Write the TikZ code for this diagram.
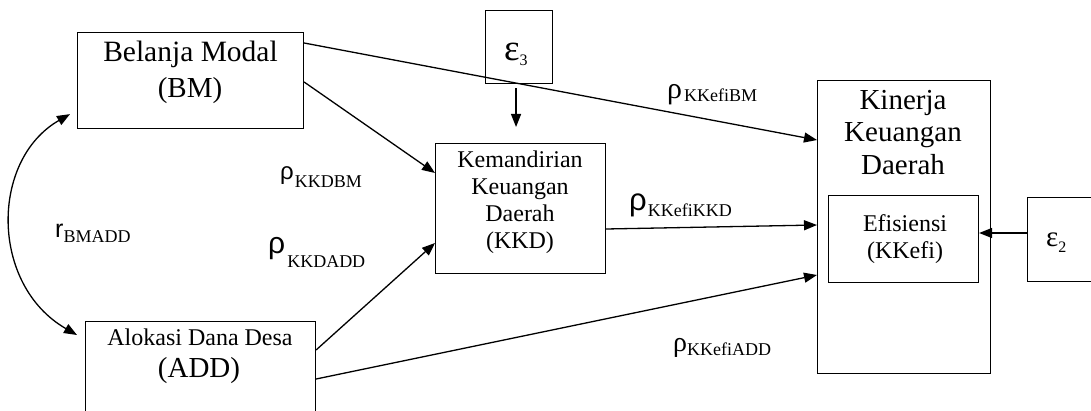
\documentclass[tikz,border=0pt]{standalone}
\usepackage{fontspec}
\setmainfont{Liberation Serif}
\newfontfamily\sansf{Liberation Sans}
\usetikzlibrary{arrows.meta,calc}
\begin{document}
\begin{tikzpicture}[x=1pt,y=-1pt,
  box/.style={draw,line width=1.1pt,inner sep=0pt,anchor=north west},
  lab/.style={inner sep=0pt,anchor=base west},
  txt/.style={inner sep=0pt,anchor=north,align=center},
  linetxt/.style={inner sep=0pt,anchor=base},
  conn/.style={line width=1.3pt,-{Triangle[length=13pt,width=10pt]}},
  biconn/.style={line width=1.3pt,{Triangle[length=13pt,width=10pt]}-{Triangle[length=13pt,width=10pt]}},
]
\useasboundingbox (0,0) rectangle (1091,411);
\fill[white] (0,0) rectangle (1091,411);

% boxes
\node[box,minimum width=226pt,minimum height=96pt] (BM) at (77,32) {};
\node[box,minimum width=230pt,minimum height=110pt] (ADD) at (85,321) {};
\node[box,minimum width=170pt,minimum height=130pt] (KKD) at (435,143) {};
\node[box,minimum width=173pt,minimum height=293pt] (KF) at (817,80) {};
\node[box,minimum width=150pt,minimum height=87pt] (EF) at (828,195) {};
\node[box,minimum width=67pt,minimum height=73pt] (E3) at (485,10) {};
\node[box,minimum width=80pt,minimum height=84pt] (E2) at (1027,197) {};

% box texts
\node[linetxt,font=\fontsize{29.5}{29.5}\selectfont] (BMa) at (190.5,62) {Belanja Modal};
\node[linetxt,font=\fontsize{29}{29}\selectfont] (BMb) at (190,98) {(BM)};
\node[linetxt,font=\fontsize{24}{24}\selectfont] (ADDa) at (200,345) {Alokasi Dana Desa};
\node[linetxt,font=\fontsize{29}{29}\selectfont] (ADDb) at (199,377) {(ADD)};
\node[txt,font=\fontsize{24}{27}\selectfont] (KKDt) at (520,151) {Kemandirian\\Keuangan\\Daerah\\(KKD)};
\node[txt,font=\fontsize{29}{32.5}\selectfont] (KFt) at (903,90) {Kinerja\\Keuangan\\Daerah};
\node[txt,font=\fontsize{24}{27}\selectfont] (EFt) at (905,214) {Efisiensi\\(KKefi)};
\node[lab] (E3t) at (504,61) {\fontsize{37}{37}\selectfont ε\raisebox{-5pt}{\fontsize{16}{16}\selectfont 3}};
\node[lab] (E2t) at (1046,247) {\fontsize{29}{29}\selectfont ε\raisebox{-6pt}{\fontsize{16}{16}\selectfont 2}};

% coefficient labels
\node[lab] (rBA) at (55,243) {\raisebox{5pt}{\sansf\fontsize{25}{25}\selectfont r}\fontsize{18}{18}\selectfont BMADD};
\node[lab] (pKB) at (280,188) {\raisebox{8pt}{\sansf\fontsize{24}{24}\selectfont ρ}\kern1pt\fontsize{18}{18}\selectfont KKDBM};
\node[lab] (pKA) at (268,268) {\raisebox{14pt}{\sansf\fontsize{30}{30}\selectfont ρ}\kern2pt\fontsize{18}{18}\selectfont KKDADD};
\node[lab] (pEK) at (629,217) {\raisebox{6pt}{\sansf\fontsize{31}{31}\selectfont ρ}\kern1pt\fontsize{18}{18}\selectfont KKefiKKD};
\node[lab] (pEB) at (667,102) {\raisebox{3pt}{\fontsize{30}{30}\selectfont ρ}\kern2pt\fontsize{18}{18}\selectfont KKefiBM};
\node[lab] (pEA) at (673,355) {\raisebox{4pt}{\fontsize{28}{28}\selectfont ρ}\fontsize{18}{18}\selectfont KKefiADD};

% connectors
\draw[conn] ([yshift=-11pt]BM.north east) -- ([yshift=-60pt]KF.north west);
\draw[conn] ([yshift=-50pt]BM.north east) -- ([yshift=-30pt]KKD.north west);
\draw[conn] ([yshift=-29pt]ADD.north east) -- ([yshift=-100pt]KKD.north west);
\draw[conn] ([yshift=-58pt]ADD.north east) -- ([yshift=-195pt]KF.north west);
\draw[conn] ([yshift=-86pt]KKD.north east) -- ([yshift=-145pt]KF.north west);
\draw[conn] ([yshift=-36pt]E2.north west) -- ([yshift=-38pt]EF.north east);
\coordinate (E3s) at ([xshift=-3pt]E3.south);
\draw[conn,shorten <=4pt,shorten >=16pt] (E3s) -- (E3s |- KKD.north);
\draw[biconn] ([xshift=-7pt,yshift=15pt]BM.south west) .. controls (-10,160) and (-10,285) .. ([xshift=-8pt,yshift=-14pt]ADD.north west);
\end{tikzpicture}
\end{document}
